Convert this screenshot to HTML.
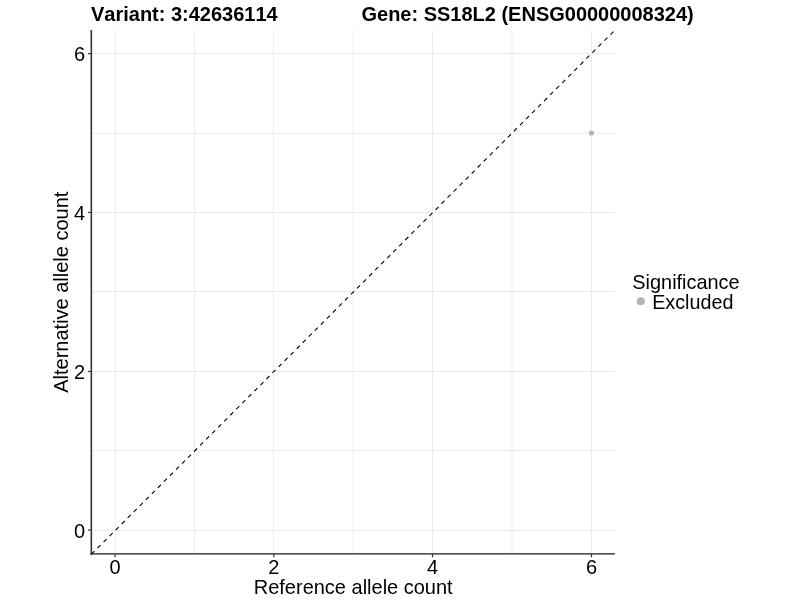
<!DOCTYPE html>
<html><head><meta charset="utf-8">
<style>
html,body{margin:0;padding:0;background:#fff;width:800px;height:600px;overflow:hidden}
svg{display:block;will-change:transform}
text{font-family:"Liberation Sans",sans-serif;fill:#000;font-kerning:none;font-feature-settings:"kern" 0,"liga" 0}
</style></head><body>
<svg width="800" height="600" viewBox="0 0 800 600">
<rect x="0" y="0" width="800" height="600" fill="#fff"/>
<g stroke="#ebebeb" stroke-width="1.0" fill="none">
<line x1="91.33" y1="530.50" x2="614.90" y2="530.50"/>
<line x1="115.40" y1="30.00" x2="115.40" y2="553.90"/>
<line x1="91.33" y1="450.50" x2="614.90" y2="450.50"/>
<line x1="194.50" y1="30.00" x2="194.50" y2="553.90"/>
<line x1="91.33" y1="371.50" x2="614.90" y2="371.50"/>
<line x1="273.50" y1="30.00" x2="273.50" y2="553.90"/>
<line x1="91.33" y1="291.50" x2="614.90" y2="291.50"/>
<line x1="353.40" y1="30.00" x2="353.40" y2="553.90"/>
<line x1="91.33" y1="212.50" x2="614.90" y2="212.50"/>
<line x1="432.50" y1="30.00" x2="432.50" y2="553.90"/>
<line x1="91.33" y1="133.40" x2="614.90" y2="133.40"/>
<line x1="512.00" y1="30.00" x2="512.00" y2="553.90"/>
<line x1="91.33" y1="53.50" x2="614.90" y2="53.50"/>
<line x1="591.50" y1="30.00" x2="591.50" y2="553.90"/>
</g>
<clipPath id="pc"><rect x="91.33" y="30.00" width="523.57" height="523.90"/></clipPath>
<line clip-path="url(#pc)" x1="91.49" y1="554.24" x2="615.33" y2="29.68" stroke="#000" stroke-width="1.1" stroke-dasharray="4.27 4.27" stroke-dashoffset="0"/>
<circle cx="591.4" cy="133.0" r="2.6" fill="#b3b3b3"/>
<g stroke="#333" stroke-width="1.6" fill="none">
<line x1="91.33" y1="30.00" x2="91.33" y2="554.70"/>
</g>
<line x1="90.53" y1="553.85" x2="614.90" y2="553.85" stroke="#1a1a1a" stroke-width="1.35"/>
<g stroke="#333" stroke-width="1.2" fill="none">
<line x1="88.03" y1="530.00" x2="91.33" y2="530.00"/>
<line x1="115.05" y1="553.90" x2="115.05" y2="557.20"/>
<line x1="88.03" y1="371.50" x2="91.33" y2="371.50"/>
<line x1="273.80" y1="553.90" x2="273.80" y2="557.20"/>
<line x1="88.03" y1="212.45" x2="91.33" y2="212.45"/>
<line x1="432.50" y1="553.90" x2="432.50" y2="557.20"/>
<line x1="88.03" y1="53.65" x2="91.33" y2="53.65"/>
<line x1="591.50" y1="553.90" x2="591.50" y2="557.20"/>
</g>
<text transform="translate(85.1,537.6) scale(1,1.04)" font-size="20" text-anchor="end">0</text>
<text transform="translate(115.05,573.8) scale(1,1.04)" font-size="20" text-anchor="middle">0</text>
<text transform="translate(85.1,379.1) scale(1,1.04)" font-size="20" text-anchor="end">2</text>
<text transform="translate(273.8,573.8) scale(1,1.04)" font-size="20" text-anchor="middle">2</text>
<text transform="translate(85.1,220.05) scale(1,1.04)" font-size="20" text-anchor="end">4</text>
<text transform="translate(432.5,573.8) scale(1,1.04)" font-size="20" text-anchor="middle">4</text>
<text transform="translate(85.1,61.25) scale(1,1.04)" font-size="20" text-anchor="end">6</text>
<text transform="translate(591.5,573.8) scale(1,1.04)" font-size="20" text-anchor="middle">6</text>
<text transform="translate(353.2,593.9) scale(1,1.04)" font-size="20" text-anchor="middle">Reference allele count</text>
<text transform="translate(68.4,292.2) rotate(-90) scale(1,1.04)" font-size="20" text-anchor="middle">Alternative allele count</text>
<text transform="translate(91.0,20.8) scale(1,1.04)" font-size="20" font-weight="bold">Variant: 3:42636114</text>
<text transform="translate(361.5,20.8) scale(1,1.04)" font-size="20" font-weight="bold">Gene: SS18L2 (ENSG00000008324)</text>
<text transform="translate(632.3,289.0) scale(1,1.04)" font-size="20" textLength="107.3" lengthAdjust="spacingAndGlyphs">Significance</text>
<circle cx="640.8" cy="301.2" r="4" fill="#b3b3b3"/>
<text transform="translate(652.2,308.8) scale(1,1.04)" font-size="20" textLength="81.2" lengthAdjust="spacingAndGlyphs">Excluded</text>
</svg>
</body></html>
